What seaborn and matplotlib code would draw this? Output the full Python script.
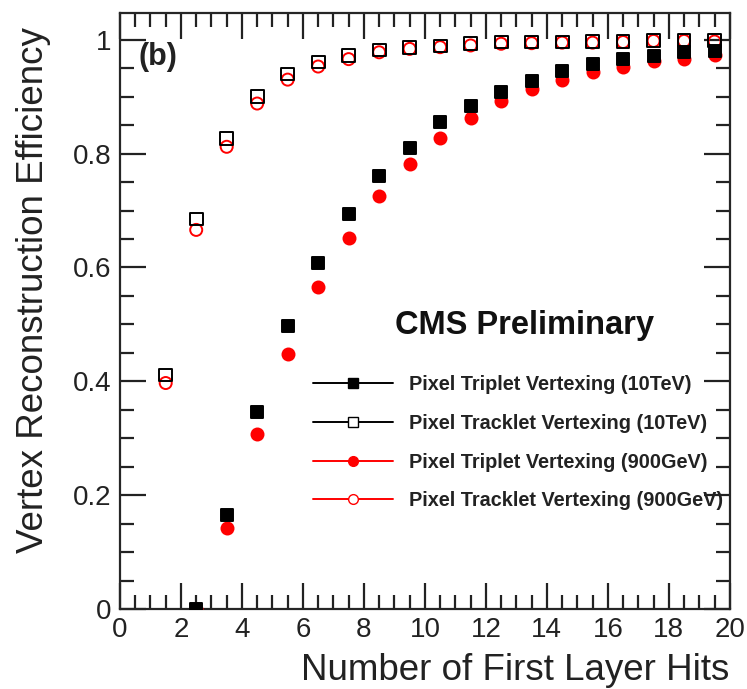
import numpy as np
import pandas as pd
import matplotlib
matplotlib.use("Agg")
import matplotlib.pyplot as plt
from matplotlib.lines import Line2D
from matplotlib.ticker import MultipleLocator
import seaborn as sns

# ============================================================
# DATA
# ============================================================

hits = [1.5, 2.5, 3.5, 4.5, 5.5, 6.5, 7.5, 8.5, 9.5, 10.5,
        11.5, 12.5, 13.5, 14.5, 15.5, 16.5, 17.5, 18.5, 19.5]

triplet_10tev = [np.nan, 0.0, 0.166, 0.346, 0.497, 0.608, 0.694, 0.760, 0.810, 0.855,
                 0.884, 0.909, 0.928, 0.946, 0.957, 0.966, 0.971, 0.978, 0.981]
tracklet_10tev = [0.411, 0.685, 0.827, 0.900, 0.940, 0.961, 0.973, 0.982, 0.986, 0.989,
                  0.993, 0.996, 0.996, 0.996, 0.997, 0.997, 0.999, 0.999, 0.999]
triplet_900gev = [np.nan, 0.0, 0.143, 0.307, 0.448, 0.566, 0.652, 0.726, 0.782, 0.828,
                  0.863, 0.892, 0.913, 0.930, 0.943, 0.953, 0.962, 0.967, 0.974]
tracklet_900gev = [0.397, 0.666, 0.812, 0.888, 0.930, 0.953, 0.966, 0.978, 0.984, 0.987,
                   0.990, 0.993, 0.994, 0.995, 0.995, 0.996, 0.998, 0.998, 0.997]

labels = ["Pixel Triplet Vertexing (10TeV)",
          "Pixel Tracklet Vertexing (10TeV)",
          "Pixel Triplet Vertexing (900GeV)",
          "Pixel Tracklet Vertexing (900GeV)"]

df = pd.DataFrame({
    "hits": hits,
    "triplet_10": triplet_10tev,
    "tracklet_10": tracklet_10tev,
    "triplet_900": triplet_900gev,
    "tracklet_900": tracklet_900gev,
})

# ============================================================
# STYLE
# ============================================================

sns.set_style("ticks")
plt.rcParams["font.family"] = ["Liberation Sans", "DejaVu Sans"]
plt.rcParams["axes.linewidth"] = 1.6

fig = plt.figure(figsize=(7.47, 6.89), dpi=100)
ax = fig.add_axes([0.1606, 0.1161, 0.8164, 0.8650])

# red drawn first, black on top (as in the reference)
series = [
    ("tracklet_900", "o", "none", "red", 75),
    ("triplet_900", "o", "red", "red", 75),
    ("tracklet_10", "s", "none", "black", 85),
    ("triplet_10", "s", "black", "black", 85),
]

for col, mk, fc, ec, sz in series:
    sns.scatterplot(data=df, x="hits", y=col, ax=ax, marker=mk, s=sz,
                    facecolors=fc, edgecolor=ec, linewidth=1.4, zorder=3)

ax.set_xlim(0, 20)
ax.set_ylim(0, 1.047)
ax.xaxis.set_major_locator(MultipleLocator(2))
ax.xaxis.set_minor_locator(MultipleLocator(0.5))
ax.yaxis.set_major_locator(MultipleLocator(0.2))
ax.yaxis.set_minor_locator(MultipleLocator(0.05))
ax.yaxis.set_major_formatter(plt.FuncFormatter(
    lambda v, p: "0" if v == 0 else ("1" if abs(v - 1) < 1e-9 else f"{v:.1f}")))

ax.tick_params(which="both", direction="in", top=True, right=True,
               width=1.6, labelsize=20, colors="#222222")
ax.tick_params(which="major", length=19, pad=6)
ax.tick_params(which="minor", length=10)
ax.tick_params(axis="x", labeltop=False)
ax.tick_params(axis="y", labelright=False)

ax.set_xlabel("Number of First Layer Hits", fontsize=26.5, color="#222222")
ax.xaxis.set_label_coords(1.0, -0.073)
ax.xaxis.label.set_horizontalalignment("right")
ax.set_ylabel("Vertex Reconstruction Efficiency", fontsize=26.5, color="#222222")
ax.yaxis.set_label_coords(-0.113, 0.976)
ax.yaxis.label.set_horizontalalignment("right")

ax.text(0.03, 0.926, "(b)", transform=ax.transAxes, fontsize=22,
        fontweight="bold", va="center", ha="left", color="#222222")
ax.text(0.876, 0.475, "CMS Preliminary", transform=ax.transAxes, fontsize=23.5,
        fontweight="bold", va="center", ha="right", color="#111111")

handles = [
    Line2D([0], [0], color="black", lw=1.4, marker="s", markersize=7,
           markerfacecolor="black", markeredgecolor="black"),
    Line2D([0], [0], color="black", lw=1.4, marker="s", markersize=7,
           markerfacecolor="white", markeredgecolor="black"),
    Line2D([0], [0], color="red", lw=1.4, marker="o", markersize=7,
           markerfacecolor="red", markeredgecolor="red"),
    Line2D([0], [0], color="red", lw=1.4, marker="o", markersize=7,
           markerfacecolor="white", markeredgecolor="red"),
]
leg = ax.legend(handles, labels, loc="upper left", bbox_to_anchor=(0.317, 0.393),
                frameon=False, fontsize=14.3, handlelength=4.0, handletextpad=0.8,
                labelspacing=1.0, borderpad=0, borderaxespad=0)
for t in leg.get_texts():
    t.set_fontweight("bold")
    t.set_color("#222222")

fig.savefig("out.png", dpi=100)
